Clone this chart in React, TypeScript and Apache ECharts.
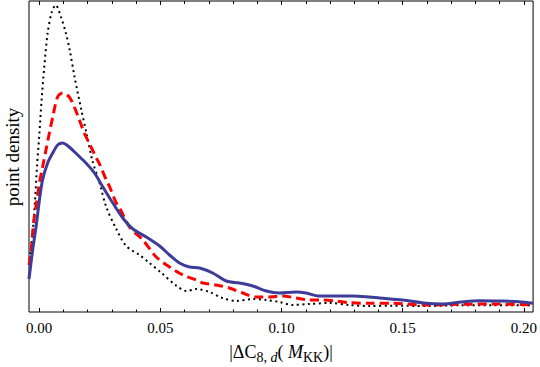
import React, { useEffect, useRef } from "react";
import * as echarts from "echarts";

// x tick labels
const majorTicks = [0, 0.05, 0.1, 0.15, 0.2];
const minorTicks = [
  0, 0.01, 0.02, 0.03, 0.04, 0.05, 0.06, 0.07, 0.08, 0.09, 0.1, 0.11, 0.12, 0.13,
  0.14, 0.15, 0.16, 0.17, 0.18, 0.19, 0.2,
];

// black dotted curve
const blackX = [
  -0.0042, -0.0027, -0.0017, -0.0009, 0.0001, 0.001, 0.0021, 0.0035, 0.0052, 0.0068,
  0.009, 0.011, 0.0126, 0.0146, 0.0174, 0.0195, 0.0219, 0.0249, 0.0277, 0.0318, 0.0359,
  0.0414, 0.0455, 0.0505, 0.0567, 0.0608, 0.0649, 0.0703, 0.0756, 0.0814, 0.088, 0.0938,
  0.0991, 0.1045, 0.1115, 0.1197, 0.128, 0.1362, 0.1457, 0.1597, 0.1733, 0.1869, 0.2038,
];
const blackY = [
  4.7, 7.9, 11.2, 14.5, 17.9, 21.2, 24.5, 27.9, 30.0, 30.7,
  29.5, 27.9, 26.2, 23.5, 20.2, 17.9, 15.2, 12.9, 10.5, 8.3, 6.6,
  5.7, 4.9, 3.9, 2.6, 2.1, 2.3, 2.0, 1.4, 1.1, 1.3, 1.2,
  1.0, 0.7, 0.8, 0.9, 0.7, 0.6, 0.63, 0.6, 0.67, 0.67, 0.67,
];

// red dashed curve
const redX = [
  -0.0042, -0.0034, -0.0027, -0.002, -0.0009, 0.0001, 0.0014, 0.0028, 0.0042, 0.0056,
  0.0076, 0.0097, 0.0124, 0.0145, 0.0166, 0.0186, 0.0208, 0.0236, 0.0249, 0.0277, 0.0291,
  0.0318, 0.0332, 0.0373, 0.0428, 0.0483, 0.0538, 0.0593, 0.0648, 0.0675, 0.073, 0.0785,
  0.084, 0.0895, 0.095, 0.1005, 0.106, 0.1115, 0.1169, 0.1225, 0.128, 0.1362, 0.1457,
  0.1596, 0.1733, 0.1869, 0.2038,
];
const redY = [
  4.7, 5.9, 7.9, 9.5, 11.2, 12.9, 14.5, 16.2, 17.9, 19.5,
  21.5, 21.9, 21.5, 20.5, 19.2, 17.9, 16.8, 15.4, 14.8, 13.2, 12.5,
  10.9, 10.4, 8.5, 7.2, 5.5, 4.5, 3.7, 3.2, 2.9, 2.7, 2.4,
  1.9, 1.5, 1.5, 1.6, 1.4, 1.2, 1.2, 1.1, 0.93, 0.87, 0.87,
  0.7, 0.77, 0.8, 0.7,
];

// blue solid curve
const blueX = [
  -0.0042, -0.0027, -0.0013, 0.0001, 0.0014, 0.0035, 0.0056, 0.0076, 0.0097, 0.0124,
  0.0159, 0.0193, 0.0228, 0.0263, 0.0304, 0.0345, 0.0387, 0.0442, 0.0497, 0.0538, 0.0579,
  0.062, 0.0662, 0.0716, 0.0772, 0.0826, 0.0881, 0.0937, 0.0991, 0.106, 0.1101, 0.1156,
  0.1225, 0.1293, 0.1362, 0.1404, 0.15, 0.1596, 0.1665, 0.1733, 0.1816, 0.1898, 0.1981,
  0.2038,
];
const blueY = [
  3.3, 6.2, 8.5, 11.2, 13.2, 14.9, 15.9, 16.7, 16.9, 16.5,
  15.7, 14.9, 13.9, 12.5, 10.9, 9.4, 8.3, 7.5, 6.6, 5.7, 4.9,
  4.5, 4.4, 3.9, 3.1, 2.9, 2.6, 2.1, 1.9, 2.0, 1.9, 1.6,
  1.6, 1.6, 1.5, 1.4, 1.2, 0.87, 0.8, 0.97, 1.13, 1.1, 1.03,
  0.87,
];

const zip = (xs: number[], ys: number[]) => xs.map((x, i) => [x, ys[i]]);

const SERIF = "'Liberation Serif', 'DejaVu Serif', serif";

export default function App() {
  const ref = useRef<HTMLDivElement>(null);
  useEffect(() => {
    document.body.style.margin = "0";
    const chart = echarts.init(ref.current!, null, { renderer: "svg" });
    const xMin = -0.0042;
    const xMax = 0.2038;
    const tickAxis = (position: "top" | "bottom", values: number[], len: number, labels: boolean) => ({
      type: "value",
      position,
      min: xMin,
      max: xMax,
      axisLine: { show: false },
      splitLine: { show: false },
      axisTick: {
        show: true,
        inside: true,
        length: len,
        customValues: values,
        lineStyle: { color: "#000", width: 1 },
      },
      axisLabel: labels
        ? {
            show: true,
            customValues: majorTicks,
            margin: 8,
            color: "#000",
            fontFamily: SERIF,
            fontSize: 15,
            formatter: (v: number) => v.toFixed(2),
          }
        : { show: false },
    });
    chart.setOption({
      animation: false,
      backgroundColor: "#fff",
      grid: {
        left: 29,
        right: 6,
        top: 1,
        bottom: 55,
        show: true,
        borderColor: "#000",
        borderWidth: 1,
        backgroundColor: "transparent",
      },
      xAxis: [
        tickAxis("bottom", majorTicks, 4, true),
        tickAxis("bottom", minorTicks, 2.5, false),
        tickAxis("top", majorTicks, 4, false),
        tickAxis("top", minorTicks, 3, false),
      ],
      yAxis: {
        type: "value",
        min: 0,
        max: 31.1,
        axisLine: { show: false },
        axisTick: { show: false },
        axisLabel: { show: false },
        splitLine: { show: false },
      },
      series: [
        {
          type: "line",
          xAxisIndex: 0,
          data: zip(blackX, blackY),
          smooth: 0.3,
          showSymbol: false,
          lineStyle: { color: "#000", width: 2, type: [2, 3.5] },
          z: 2,
        },
        {
          type: "line",
          xAxisIndex: 0,
          data: zip(redX, redY),
          smooth: 0.3,
          showSymbol: false,
          lineStyle: { color: "#ff0000", width: 3, type: [9, 5] },
          z: 3,
        },
        {
          type: "line",
          xAxisIndex: 0,
          data: zip(blueX, blueY),
          smooth: 0.3,
          showSymbol: false,
          lineStyle: { color: "#3d3d99", width: 3 },
          z: 4,
        },
      ],
      graphic: [
        {
          type: "text",
          x: 12,
          y: 157,
          rotation: Math.PI / 2,
          style: {
            text: "point density",
            fontFamily: SERIF,
            fontSize: 19,
            fill: "#000",
            align: "center",
            verticalAlign: "middle",
          },
        },
        {
          type: "text",
          x: 281,
          y: 352,
          style: {
            text: "{n||ΔC}{s|8, }{si|d}{n|( }{i|M}{s|KK}{n|)|}",
            fill: "#000",
            align: "center",
            verticalAlign: "middle",
            rich: {
              n: { fontFamily: SERIF, fontSize: 18, lineHeight: 24, verticalAlign: "middle", fill: "#000" },
              i: { fontFamily: SERIF, fontSize: 18, fontStyle: "italic", lineHeight: 24, verticalAlign: "middle", fill: "#000" },
              s: { fontFamily: SERIF, fontSize: 14, lineHeight: 14, verticalAlign: "bottom", fill: "#000" },
              si: { fontFamily: SERIF, fontSize: 14, fontStyle: "italic", lineHeight: 14, verticalAlign: "bottom", fill: "#000" },
            },
          },
        },
      ],
    });
    return () => chart.dispose();
  }, []);
  return <div ref={ref} style={{ width: 540, height: 367 }} />;
}
